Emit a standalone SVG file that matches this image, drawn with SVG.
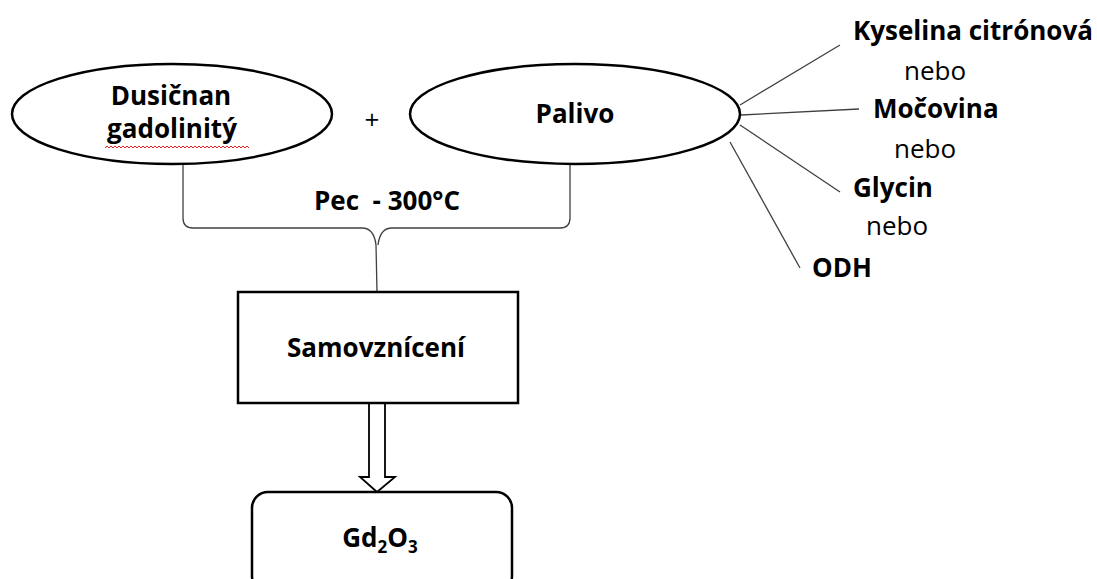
<svg xmlns="http://www.w3.org/2000/svg" width="1097" height="579" viewBox="0 0 1097 579">
<defs>
<style>
.sh{fill:#fff;stroke:#000;stroke-width:2.5}
.ln{fill:none;stroke:#404040;stroke-width:1.3}
.b{font-family:"Open Sans","Liberation Sans",sans-serif;font-weight:bold;font-size:26px;fill:#000}
.r{font-family:"Open Sans","Liberation Sans",sans-serif;font-size:26px;fill:#000}
</style>
</defs>
<rect width="1097" height="579" fill="#fff"/>
<g id="connectors">
<path class="ln" d="M183,164 V218 Q183,228 193,228 H362 Q374,228 376,245 L377,292"/>
<path class="ln" d="M570,164 V218 Q570,228 560,228 H392 Q380,228 378,245"/>
<line class="ln" x1="740" y1="105" x2="840" y2="45"/>
<line class="ln" x1="741" y1="115" x2="859" y2="109"/>
<line class="ln" x1="740" y1="125" x2="840" y2="192"/>
<line class="ln" x1="730" y1="142" x2="800" y2="268"/>
<path fill="#fff" stroke="#000" stroke-width="1.8" d="M369,403 V477 H360 L377,492 L395,477 H385 V403"/>
</g>
<g id="n-dusicnan">
<ellipse class="sh" cx="172" cy="114" rx="160" ry="50"/>
<text class="b" x="171" y="105" text-anchor="middle">Dusičnan</text>
<text class="b" x="172" y="138" text-anchor="middle">gadolinitý</text>
<path d="M105,148 l2,-2 l2,2 l2,-2 l2,2 l2,-2 l2,2 l2,-2 l2,2 l2,-2 l2,2 l2,-2 l2,2 l2,-2 l2,2 l2,-2 l2,2 l2,-2 l2,2 l2,-2 l2,2 l2,-2 l2,2 l2,-2 l2,2 l2,-2 l2,2 l2,-2 l2,2 l2,-2 l2,2 l2,-2 l2,2 l2,-2 l2,2 l2,-2 l2,2 l2,-2 l2,2 l2,-2 l2,2 l2,-2 l2,2 l2,-2 l2,2 l2,-2 l2,2 l2,-2 l2,2 l2,-2 l2,2 l2,-2 l2,2 l2,-2 l2,2 l2,-2 l2,2 l2,-2 l2,2 l2,-2 l2,2 l2,-2 l2,2 l2,-2 l2,2 l2,-2 l2,2 l2,-2 l2,2 l2,-2 l2,2 l2,-2 l2,2" fill="none" stroke="#e02020" stroke-width="1"/>
</g>
<g id="plus"><text class="r" x="372" y="129" text-anchor="middle" font-size="24">+</text></g>
<g id="n-palivo">
<ellipse class="sh" cx="575" cy="114" rx="165" ry="50"/>
<text class="b" x="575" y="123" text-anchor="middle">Palivo</text>
</g>
<g id="pec"><text class="b" x="314" y="210" xml:space="preserve">Pec  - 300°C</text></g>
<g id="n-samo">
<rect class="sh" x="238" y="292" width="280" height="111"/>
<text class="b" x="376" y="357" text-anchor="middle">Samovznícení</text>
</g>
<g id="n-gd">
<rect class="sh" x="252" y="492" width="260" height="100" rx="16"/>
<text class="b" x="380" y="547" text-anchor="middle">Gd<tspan font-size="17" dy="6">2</tspan><tspan dy="-6">O</tspan><tspan font-size="17" dy="6">3</tspan></text>
</g>
<g id="fuels">
<text class="b" x="853" y="40">Kyselina citrónová</text>
<text class="r" x="935" y="80" text-anchor="middle">nebo</text>
<text class="b" x="873" y="118">Močovina</text>
<text class="r" x="925" y="158" text-anchor="middle">nebo</text>
<text class="b" x="853" y="197">Glycin</text>
<text class="r" x="897" y="235" text-anchor="middle">nebo</text>
<text class="b" x="812" y="277">ODH</text>
</g>
</svg>
